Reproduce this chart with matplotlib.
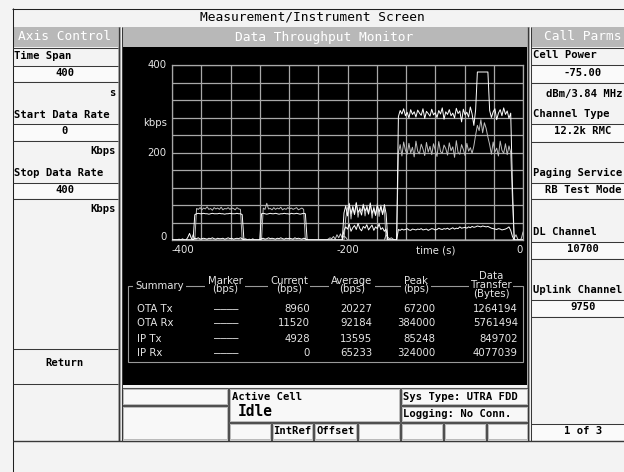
import matplotlib as mpl
mpl.use('Agg')
import matplotlib.pyplot as plt
from matplotlib.patches import Rectangle
import numpy as np

# ---------------- data ----------------
t_step = 2.0
t_axis = np.arange(-400, 0.5, t_step)

# (start time, samples every 2 s) ; zero elsewhere
ota_rx_seg = [
    (-374, [58,60,61,60,60,61,60,60,59,60,61,60,60,60,61,60,60,59,60,60,61,60,60,60,61,60,60,58]),
    (-298, [60,61,60,59,60,61,60,60,61,60,59,60,60,61,60,60,59,61,60,60,61,60,59,60,61,60]),
    (-204, [62,78,55,82,60,75,58,84,63,70,57,80,66,74,59,83,61,72,56,79,64,76,58,81,60]),
    (-142, [282,296,288,300,284,292,279,298,287,293,281,297,290,285,300,278,294,289,283,299,
            286,291,280,296,288,302,276,293,287,298,284,290,279,301,289,295,270,299,286,292,
            281,304,288,262,297,384,384,384,384,384,384,384,
            296,280,293,300,275,290,298,284,302,287,295,278,290,120]),
]
ip_rx_seg = [
    (-372, [72,70,74,69,73,71,76,70,72,68,74,71,73,70,75,69,72,71,74,70,73,72,69,74,71,70]),
    (-296, [73,70,84,71,72,69,74,70,73,71,75,69,72,70,74,71,73,70,72,74,69,71,73,70]),
    (-202, [50,72,84,48,78,60,86,52,74,66,82,55,79,62,85,50,76,58,83,54,80,61,72]),
    (-142, [200,218,192,224,205,196,221,199,212,190,226,203,197,219,208,193,223,201,214,195,
            220,206,191,225,202,198,217,209,194,222,204,213,189,227,200,196,218,207,193,221,
            203,211,198,215,240,262,250,275,245,268,255,235,
            218,196,224,201,210,192,226,205,198,220,195,215,200,90]),
]
ota_tx_seg = [
    (-382, [6,15,4]),
    (-374, [4,3,5,2,3,4,3,2,4,3,5,3,2,4,3,3,4,2,3,5,3,4,2,3,4,3,5,3]),
    (-298, [3,4,2,3,5,3,4,3,2,4,3,5,3,2,4,3,4,3,2,5,3,4,3,2,4,3]),
    (-204, [22,30,25,36,20,28,33,24,38,26,21,31,27,35,23,29,34,22,30,26,37,24,28,20,25]),
    (-142, [24,22,25,23,24,26,23,22,25,24,23,25,24,26,23,24,25,22,24,26,
            25,23,24,27,25,24,26,25,27,24,26,28,25,27,26,30,27,28,29,27,
            30,28,31,29,30,32,31,30,32,31,30,31,29,27,26,25,24,26,25,23,
            24,25,27,30,22,8]),
]
ip_tx_seg = [
    (-392, [2,0,3]),
    (-378, [0,12,3]),
    (-318, [2,3,0,2,0,3]),
    (-222, [2,5,3,8,2,12,5,14,4,9,6]),
    (-156, [12,6,3,5,2]),
    (-10, [4,12,2,0,3,18]),
]

summary_rows = ["OTA Tx", "OTA Rx", "IP Tx", "IP Rx"]
marker_bps = ["----", "----", "----", "----"]
current_bps = ["8960", "11520", "4928", "0"]
average_bps = ["20227", "92184", "13595", "65233"]
peak_bps = ["67200", "384000", "85248", "324000"]
transfer_bytes = ["1264194", "5761494", "849702", "4077039"]

y_labels = [0, 200, 400]
x_labels = [-400, -200, 0]


def build(segments):
    y = np.zeros(len(t_axis))
    for t0, vals in segments:
        i0 = int(round((t0 + 400) / t_step))
        y[i0:i0 + len(vals)] = vals
    return y


# ---------------- figure ----------------
W, H = 624, 472
fig = plt.figure(figsize=(W / 100, H / 100), dpi=100)
fig.patch.set_facecolor('#f3f3f3')
bg = fig.add_axes([0, 0, 1, 1])
bg.set_xlim(0, W); bg.set_ylim(H, 0); bg.axis('off')

MONO = 'DejaVu Sans Mono'
SANS = 'DejaVu Sans'
DARK = '#383838'
HEAD = '#b8b8b8'


def rect(x0, y0, x1, y1, fc='#f3f3f3', ec='none', lw=0.75, z=1):
    bg.add_patch(Rectangle((x0, y0), x1 - x0, y1 - y0, facecolor=fc, edgecolor=ec, linewidth=lw, zorder=z))


def hl(y, x0, x1, c=DARK, lw=0.75):
    bg.plot([x0, x1], [y, y], color=c, lw=lw, solid_capstyle='butt', zorder=3)


def vl(x, y0, y1, c=DARK, lw=0.75):
    bg.plot([x, x], [y0, y1], color=c, lw=lw, solid_capstyle='butt', zorder=3)


def lab(x, y, s, ha='left', size=7.6, color='black', weight='bold', family=MONO, **kw):
    bg.text(x, y, s, ha=ha, va='center', fontsize=size, color=color, fontweight=weight,
            family=family, zorder=5, **kw)


# title bar
hl(8.5, 12, W, c='#202020')
vl(12.5, 8, H, c='#202020')
lab(312, 17.5, "Measurement/Instrument Screen", ha='center', size=9.3, weight='normal')

# headers
rect(12.5, 27, 118, 47, fc=HEAD)
rect(122, 27, 527, 47, fc=HEAD)
rect(531, 27, W, 47, fc=HEAD)
lab(65, 37, "Axis Control", ha='center', size=9.3, weight='normal', color='white')
lab(324, 37, "Data Throughput Monitor", ha='center', size=9.3, weight='normal', color='white')
lab(583, 37, "Call Parms", ha='center', size=9.3, weight='normal', color='white')

# black monitor area
rect(122, 47, 527, 385, fc='black')

# separators (double lines)
for xs in (118, 527):
    rect(xs, 27, xs + 3, 441, fc='#a8a8a8', z=2)
    vl(xs + 0.5, 27, 441, c=DARK)
    vl(xs + 3.5, 27, 441, c=DARK)

# left panel
for y in (47, 65, 81, 123, 140, 182, 198, 348, 383):
    hl(y + 0.5, 12.5, 118)
for y0, y1 in ((65, 81), (123, 140), (182, 198)):
    rect(13, y0 + 1, 118, y1, fc='#fafafa')
lab(14, 56, "Time Span")
lab(65, 73, "400", ha='center')
lab(116, 93.5, "s", ha='right')
lab(14, 115, "Start Data Rate")
lab(65, 131.5, "0", ha='center')
lab(116, 151, "Kbps", ha='right')
lab(14, 173, "Stop Data Rate")
lab(65, 190, "400", ha='center')
lab(116, 209, "Kbps", ha='right')
lab(65, 363, "Return", ha='center')

# right panel
for y0, y1 in ((64, 82), (123, 141), (182, 198), (241, 258), (299, 316), (423, 440)):
    rect(531, y0 + 1, W, y1, fc='#fafafa')
for y in (47, 64, 82, 123, 141, 182, 198, 241, 258, 299, 316, 423):
    hl(y + 0.5, 531, W)
lab(533, 55.5, "Cell Power")
lab(583, 73, "-75.00", ha='center')
lab(622, 93.5, "dBm/3.84 MHz", ha='right')
lab(533, 114, "Channel Type")
lab(583, 131.5, "12.2k RMC", ha='center')
lab(533, 173, "Paging Service")
lab(583, 190, "RB Test Mode", ha='center')
lab(533, 232, "DL Channel")
lab(583, 249.5, "10700", ha='center')
lab(533, 290, "Uplink Channel")
lab(583, 307.5, "9750", ha='center')
lab(583, 431.5, "1 of 3", ha='center')

# bottom middle boxes
def dbox(x0, y0, x1, y1):
    rect(x0, y0, x1, y1, fc='#f8f8f8', ec='#505050', lw=0.8, z=2)
    rect(x0 + 1.2, y0 + 1.2, x1 - 1.2, y1 - 1.2, fc='none', ec='#b0b0b0', lw=0.6, z=2)

dbox(121.5, 388, 228, 405)
dbox(121.5, 406, 228, 440.5)
dbox(229, 388, 400, 422)
dbox(401, 388, 528, 405)
dbox(401, 406, 528, 422)
for x0, x1 in ((229, 271), (272, 313), (314, 357), (358, 400), (401, 443), (444, 486), (487, 528)):
    dbox(x0, 423, x1, 440.5)
lab(232, 397, "Active Cell")
lab(238, 411, "Idle", size=10.5)
lab(403, 396.5, "Sys Type: UTRA FDD")
lab(403, 414, "Logging: No Conn.")
lab(292.5, 431.5, "IntRef", ha='center')
lab(335.5, 431.5, "Offset", ha='center')

# bottom bar
hl(441, 12.5, W, c=DARK, lw=1.0)

# ---------------- throughput plot ----------------
grid_c = '#a8a8a8'
ax = fig.add_axes([172 / W, 1 - 240 / H, 351 / W, 175 / H])
ax.set_facecolor('black')
ax.set_xlim(-400, 0); ax.set_ylim(0, 400)
ax.set_xticks([]); ax.set_yticks([])
for xv in np.linspace(-400, 0, 13):
    ax.axvline(xv, color=grid_c, lw=0.9, zorder=1)
for yv in np.linspace(0, 400, 11):
    ax.axhline(yv, color=grid_c, lw=0.9, zorder=1)
for s in ax.spines.values():
    s.set_color(grid_c); s.set_linewidth(0.9)

ax.plot(t_axis, build(ip_rx_seg), color='#bdbdbd', lw=0.7, zorder=3)
ax.plot(t_axis, build(ota_rx_seg), color='white', lw=0.7, zorder=4)
ax.plot(t_axis, build(ip_tx_seg), color='#c8c8c8', lw=0.7, zorder=3)
ax.plot(t_axis, build(ota_tx_seg), color='white', lw=0.7, zorder=4)

tc = '#e6e6e6'
for v in y_labels:
    ax.text(-406, v + (6 if v == 0 else 0), str(v), ha='right', va='center', color=tc,
            fontsize=7.3, family=SANS, clip_on=False)
ax.text(-406, 267, "kbps", ha='right', va='center', color=tc, fontsize=7.3, family=SANS, clip_on=False)
for v, ha in zip(x_labels, ('left', 'center', 'right')):
    ax.text(v, -23, str(v), ha=ha, va='center', color=tc,
            fontsize=7.3, family=SANS, clip_on=False)
ax.text(-100, -23, "time (s)", ha='center', va='center', color=tc, fontsize=7.3,
        family=SANS, clip_on=False)

# ---------------- summary table ----------------
rect(128, 286, 523, 362, fc='none', ec='#999999', lw=0.8, z=3)
hb = dict(facecolor='black', edgecolor='none', pad=1.5)
bg.text(135, 286, "Summary", ha='left', va='center', color=tc, fontsize=7.3, family=SANS,
        zorder=6, bbox=hb)
for x, s in ((225, "Marker\n(bps)"), (289, "Current\n(bps)"), (352, "Average\n(bps)"),
             (416, "Peak\n(bps)"), (491, "Data\nTransfer\n(Bytes)")):
    bg.text(x, 285, s, ha='center', va='center', color=tc, fontsize=7.3,
            family=SANS, linespacing=0.85, zorder=6, bbox=hb)

row_y = [309, 323.5, 338.5, 353]
for i, y in enumerate(row_y):
    bg.text(137, y, summary_rows[i], ha='left', va='center', color=tc, fontsize=7.3, family=SANS, zorder=6)
    bg.text(226, y, marker_bps[i].replace('-', '\u2013'), ha='center', va='center', color=tc,
            fontsize=7.3, family=MONO, zorder=6)
    bg.text(310, y, current_bps[i], ha='right', va='center', color=tc, fontsize=7.3, family=SANS, zorder=6)
    bg.text(372, y, average_bps[i], ha='right', va='center', color=tc, fontsize=7.3, family=SANS, zorder=6)
    bg.text(435, y, peak_bps[i], ha='right', va='center', color=tc, fontsize=7.3, family=SANS, zorder=6)
    bg.text(518, y, transfer_bytes[i], ha='right', va='center', color=tc, fontsize=7.3, family=SANS, zorder=6)

fig.savefig('out.png', dpi=100, facecolor=fig.get_facecolor())
